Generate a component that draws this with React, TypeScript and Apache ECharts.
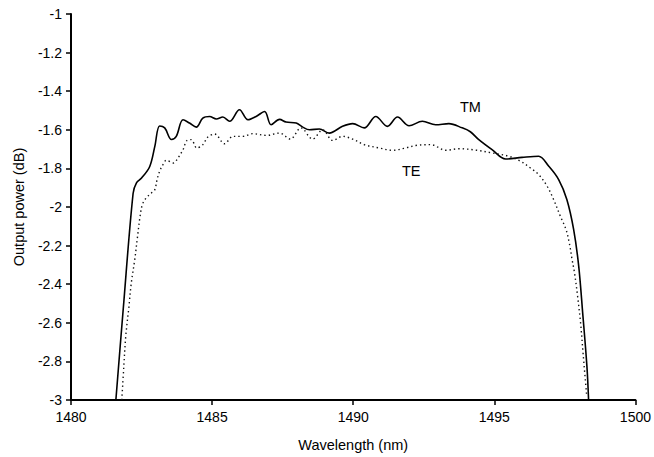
import React, { useEffect, useRef } from "react";
import * as echarts from "echarts";

const tmWavelength = [
  1481.59, 1481.85, 1482.2, 1482.32, 1482.5, 1482.79, 1482.97, 1483.14, 1483.32, 1483.56,
  1483.73, 1483.97, 1484.2, 1484.44, 1484.67, 1484.91, 1485.15, 1485.38, 1485.62, 1485.97,
  1486.27, 1486.56, 1486.86, 1487.09, 1487.39, 1487.62, 1487.98, 1488.2, 1488.45, 1488.8,
  1489.15, 1489.62, 1489.98, 1490.39, 1490.8, 1491.21, 1491.57, 1491.98, 1492.45, 1492.92,
  1493.39, 1493.86, 1494.15, 1494.45, 1494.92, 1495.4, 1495.98, 1496.57, 1496.93, 1497.28,
  1497.57, 1497.81, 1497.99, 1498.13, 1498.28, 1498.34,
];
const tmPower = [
  -3.0, -2.53, -1.93, -1.875, -1.85, -1.79, -1.686, -1.58, -1.59, -1.65,
  -1.634, -1.548, -1.565, -1.586, -1.539, -1.531, -1.544, -1.534, -1.556, -1.496,
  -1.548, -1.531, -1.505, -1.574, -1.546, -1.56, -1.565, -1.585, -1.6, -1.596,
  -1.617, -1.582, -1.568, -1.59, -1.531, -1.582, -1.534, -1.579, -1.556, -1.574,
  -1.568, -1.59, -1.61, -1.651, -1.703, -1.751, -1.743, -1.737, -1.789, -1.858,
  -1.961, -2.116, -2.306, -2.547, -2.823, -3.0,
];

const teWavelength = [
  1481.8, 1481.87, 1481.94, 1482.05, 1482.14, 1482.26, 1482.36, 1482.44, 1482.53, 1482.67,
  1482.85, 1482.97, 1483.05, 1483.14, 1483.26, 1483.38, 1483.62, 1483.79, 1483.97, 1484.11,
  1484.26, 1484.46, 1484.67, 1484.85, 1485.09, 1485.44, 1485.74, 1486.09, 1486.44, 1486.92,
  1487.39, 1487.77, 1488.15, 1488.56, 1488.92, 1489.27, 1489.62, 1489.98, 1490.39, 1490.92,
  1491.39, 1491.86, 1492.22, 1492.75, 1493.28, 1493.75, 1494.38, 1494.92, 1495.51, 1495.93,
  1496.28, 1496.57, 1496.87, 1497.1, 1497.34, 1497.54, 1497.66, 1497.75, 1497.84, 1497.95,
  1498.06, 1498.15, 1498.27,
];
const tePower = [
  -3.0, -2.83, -2.67, -2.52, -2.39, -2.271, -2.151, -2.056, -1.987, -1.952,
  -1.927, -1.91, -1.858, -1.815, -1.78, -1.758, -1.772, -1.746, -1.703, -1.655,
  -1.651, -1.694, -1.677, -1.637, -1.622, -1.672, -1.634, -1.634, -1.62, -1.629,
  -1.617, -1.648, -1.59, -1.648, -1.6, -1.655, -1.634, -1.648, -1.677, -1.694,
  -1.706, -1.694, -1.681, -1.677, -1.706, -1.698, -1.706, -1.72, -1.737, -1.763,
  -1.798, -1.832, -1.892, -1.961, -2.048, -2.116, -2.189, -2.268, -2.34, -2.461,
  -2.607, -2.767, -2.974,
];

const FONT = 'Arial, "Liberation Sans", sans-serif';

export default function App() {
  const ref = useRef<HTMLDivElement>(null);
  useEffect(() => {
    if (!ref.current) return;
    const chart = echarts.init(ref.current, null, { renderer: "svg" });
    const axisCommon = {
      axisLine: { show: true, onZero: false, lineStyle: { color: "#000", width: 2 } },
      axisTick: { show: true, length: 5, lineStyle: { color: "#000", width: 1.5 } },
      axisLabel: { color: "#000", fontSize: 14, fontFamily: FONT },
      splitLine: { show: false },
      nameTextStyle: { color: "#000", fontSize: 14.5, fontFamily: FONT },
    };
    chart.setOption({
      animation: false,
      backgroundColor: "#fff",
      grid: { left: 71, right: 17, top: 14, bottom: 56, containLabel: false },
      xAxis: {
        type: "value",
        min: 1480,
        max: 1500,
        interval: 5,
        name: "Wavelength (nm)",
        nameLocation: "middle",
        nameGap: 37,
        ...axisCommon,
        axisLabel: {
          ...axisCommon.axisLabel,
          margin: 10,
          formatter: (v: number) => String(v),
        },
      },
      yAxis: {
        type: "value",
        min: -3,
        max: -1,
        interval: 0.2,
        name: "Output power (dB)",
        nameLocation: "middle",
        nameGap: 44,
        ...axisCommon,
        axisLabel: {
          ...axisCommon.axisLabel,
          margin: 9,
          formatter: (v: number) => String(Math.round(v * 10) / 10),
        },
      },
      series: [
        {
          name: "TM",
          type: "line",
          data: tmWavelength.map((x, i) => [x, tmPower[i]]),
          showSymbol: false,
          smooth: 0.35,
          lineStyle: { color: "#000", width: 1.6 },
        },
        {
          name: "TE",
          type: "line",
          data: teWavelength.map((x, i) => [x, tePower[i]]),
          showSymbol: false,
          smooth: 0.35,
          lineStyle: { color: "#111", width: 1.4, type: [1.4, 3] },
        },
      ],
      graphic: [
        {
          type: "text",
          left: 460,
          top: 99,
          style: { text: "TM", fill: "#000", fontSize: 14.5, fontFamily: FONT },
        },
        {
          type: "text",
          left: 402,
          top: 163,
          style: { text: "TE", fill: "#000", fontSize: 14.5, fontFamily: FONT },
        },
      ],
    });
    return () => chart.dispose();
  }, []);
  return (
    <div
      ref={ref}
      style={{ position: "fixed", left: 0, top: 0, width: 654, height: 457, background: "#fff" }}
    />
  );
}
